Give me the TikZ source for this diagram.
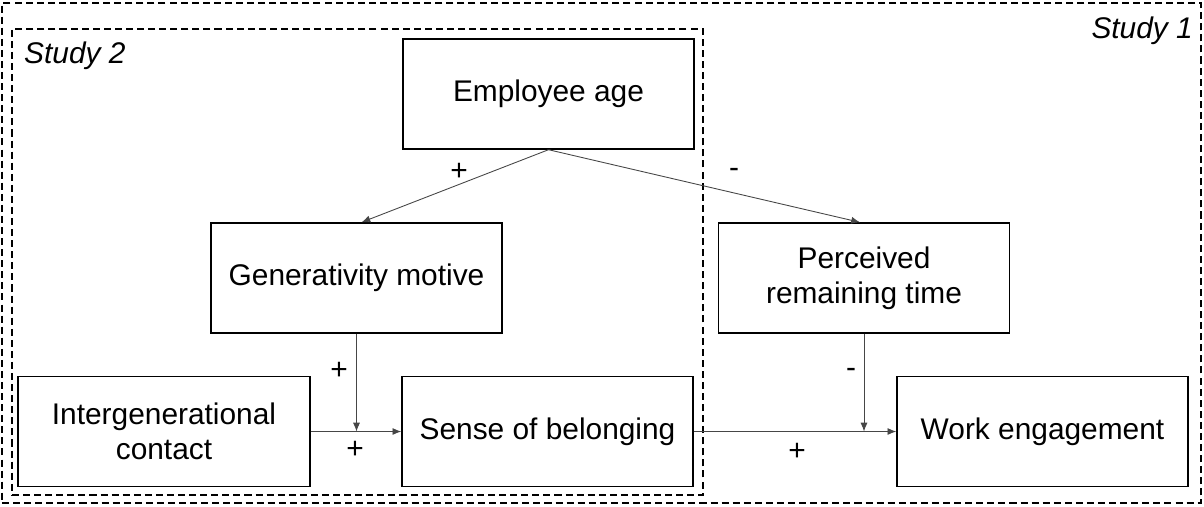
\documentclass[tikz,border=0pt]{standalone}
\usepackage{fontspec}
\setmainfont{Liberation Sans}
\usepackage{xcolor}
\usetikzlibrary{arrows.meta,positioning,calc}
\definecolor{edgegray}{RGB}{70,70,70}

\begin{document}
\begin{tikzpicture}[
            font=\fontsize{17}{20}\selectfont,
            box/.style={rectangle, draw=black, line width=0.8pt, minimum width=5.82cm, minimum height=2.2cm, inner sep=0pt, align=center},
            study/.style={rectangle, draw=black, line width=0.6pt, dash pattern=on 4pt off 2.3pt},
            arrow/.style={-{Latex[length=5pt,width=4pt]}, line width=0.5pt, edgegray},
            sign/.style={inner sep=0pt}
        ]
        \useasboundingbox (0,0) rectangle (24.08,-10.12);

        % Study frames
        \node[study, minimum width=23.98cm, minimum height=10cm] (study1) at (12.03,-5.06) {};
        \node[study, minimum width=13.82cm, minimum height=9.32cm] (study2) at (7.15,-5.24) {};
        \node[anchor=west, font=\fontsize{17}{20}\selectfont\itshape] (lbltwo) at (0.36,-1.12) {Study 2};
        \node[anchor=east, font=\fontsize{17}{20}\selectfont\itshape] (lblone) at (23.98,-0.62) {Study 1};

        % Variables
        \node[box] (age) at (10.97,-1.88) {Employee age};
        \node[box] (gen) at (7.13,-5.56) {Generativity motive};
        \node[box] (perc) at (17.28,-5.56) {Perceived\\remaining time};
        \node[box, minimum width=5.84cm] (inter) at (3.28,-8.63) {Intergenerational\\contact};
        \node[box] (belong) at (10.95,-8.63) {Sense of belonging};
        \node[box] (work) at (20.85,-8.63) {Work engagement};

        % Moderation points
        \coordinate (modgen) at (gen.south |- inter.east);
        \coordinate (modperc) at (perc.south |- belong.east);

        % Arrows
        \draw[arrow] (age.south) -- ($(gen.north)+(0.1,0)$);
        \draw[arrow] (age.south) -- ($(perc.north)+(-0.08,0)$);
        \draw[arrow] (inter.east) -- (belong.west);
        \draw[arrow] (gen.south) -- (modgen);
        \draw[arrow] (belong.east) -- (work.west);
        \draw[arrow] (perc.south) -- (modperc);

        % Signs
        \node[sign] (sagegen) at (9.18,-3.44) {+};
        \node[sign] (sageperc) at (14.68,-3.46) {-};
        \node[sign] (sgen) at (6.78,-7.42) {+};
        \node[sign] (sinter) at (7.1,-9.0) {+};
        \node[sign] (sperc) at (17.02,-7.46) {-};
        \node[sign] (sbelong) at (15.94,-9.04) {+};

        \end{tikzpicture}
\end{document}
